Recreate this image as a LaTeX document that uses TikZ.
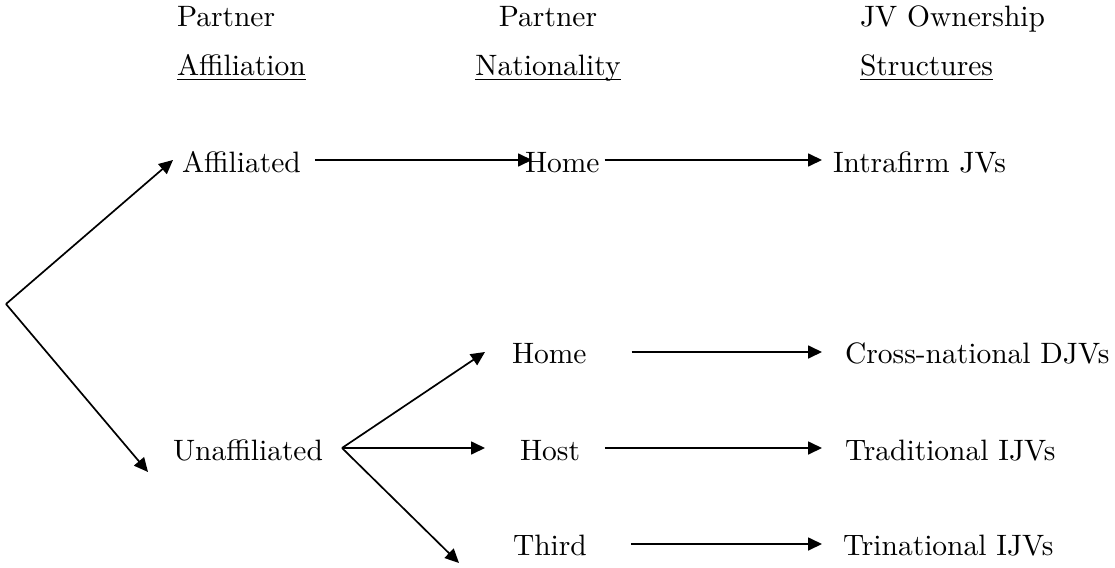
\documentclass[tikz,border=0pt]{standalone}
\usepackage{fontspec}
\setmainfont{lmroman10-regular.otf}
\usetikzlibrary{arrows.meta}
\begin{document}
\begin{tikzpicture}[x=1pt,y=-1pt,
  lbl/.style={inner sep=0pt,outer sep=0pt,anchor=base west,font=\fontsize{29.5}{34}\selectfont},
  clbl/.style={lbl,anchor=base},
  arr/.style={line width=1.7pt,-{Triangle[length=14pt,width=13pt]}},
  uline/.style={line width=1.7pt}]
\useasboundingbox (0,0) rectangle (1115,567);
% headers
\node[lbl] (h1a) at (177,27) {Partner};
\node[lbl] (h1b) at (177,76) {Affiliation};
\node[clbl] (h2a) at (548,27) {Partner};
\node[clbl] (h2b) at (548,76) {Nationality};
\node[lbl] (h3a) at (860,27) {JV Ownership};
\node[lbl] (h3b) at (860,76) {Structures};
\foreach \n in {h1b,h2b,h3b}
  \draw[uline] ([yshift=-3.5pt]\n.base west) -- ([yshift=-3.5pt]\n.base east);
% nodes
\node[lbl] (aff) at (182,172) {Affiliated};
\node[lbl] (homeA) at (525,172) {Home};
\node[lbl] (intra) at (833,172) {Intrafirm JVs};
\node[lbl] (unaff) at (173,460) {Unaffiliated};
\node[lbl] (homeB) at (512,363) {Home};
\node[lbl] (cross) at (845,363) {Cross-national DJVs};
\node[lbl] (host) at (520,460) {Host};
\node[lbl] (trad) at (845,460) {Traditional IJVs};
\node[lbl] (third) at (513,555) {Third};
\node[lbl] (trin) at (843,555) {Trinational IJVs};
% vertices
\coordinate (root) at (6,304);
\coordinate (fan) at (342,448);
% connectors
\draw[arr] (root) -- ([shift={(-9,-12)}]aff.base west);
\draw[arr] (root) -- ([shift={(-25,12)}]unaff.base west);
\draw[arr] ([shift={(14,-12)}]aff.base east) -- ([shift={(7,-12)}]homeA.base west);
\draw[arr] ([shift={(5,-12)}]homeA.base east) -- ([shift={(-11,-12)}]intra.base west);
\draw[arr] (fan) -- ([shift={(-27,-11)}]homeB.base west);
\draw[arr] (fan) -- ([shift={(-35,-12)}]host.base west);
\draw[arr] (fan) -- ([shift={(-54,8)}]third.base west);
\draw[arr] ([shift={(45,-11)}]homeB.base east) -- ([shift={(-23,-11)}]cross.base west);
\draw[arr] ([shift={(25,-12)}]host.base east) -- ([shift={(-23,-12)}]trad.base west);
\draw[arr] ([shift={(44,-11)}]third.base east) -- ([shift={(-21,-11)}]trin.base west);
\end{tikzpicture}
\end{document}
